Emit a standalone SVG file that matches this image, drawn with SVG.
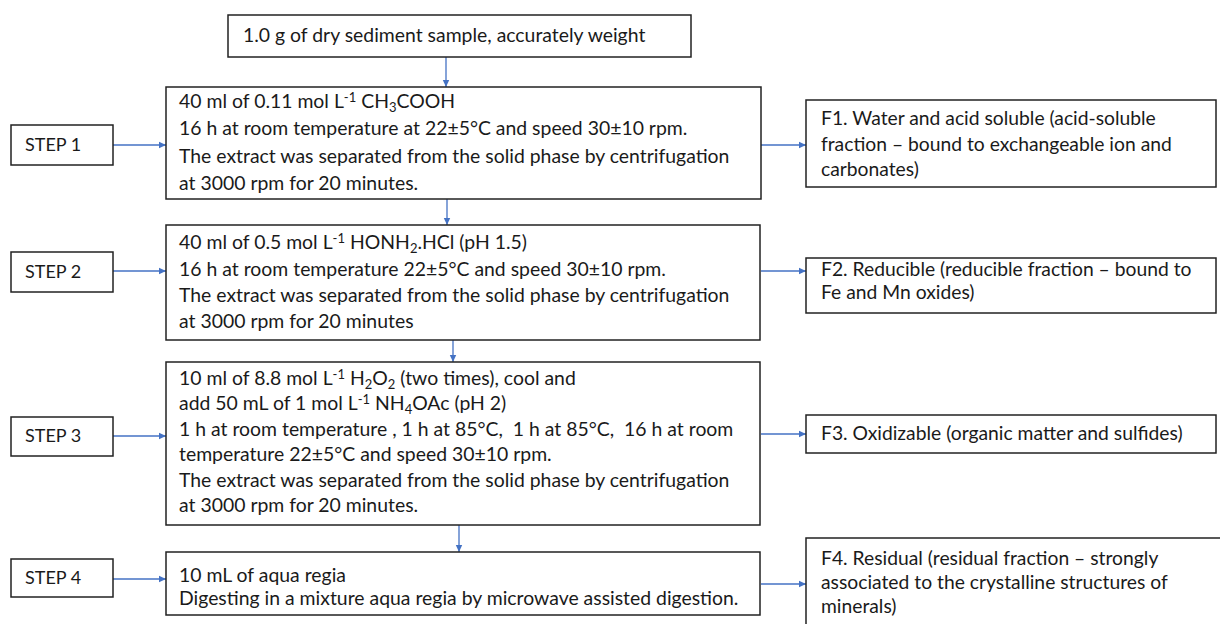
<svg xmlns="http://www.w3.org/2000/svg" width="1220" height="624" viewBox="0 0 1220 624">
<style>
  .box { fill: #ffffff; stroke: #222222; stroke-width: 1.5; }
  .t { font-family: Lato, "Open Sans", "Liberation Sans", sans-serif; font-size: 19.4px; fill: #1a1a1a; white-space: pre; }
  .f { font-size: 19.3px; }
  .s { font-size: 18px; }
  .c { stroke: #4472C4; stroke-width: 1.3; fill: none; marker-end: url(#ah); }
</style>
<defs>
  <marker id="ah" markerWidth="8" markerHeight="8" refX="7" refY="4" orient="auto" markerUnits="userSpaceOnUse">
    <path d="M0,0.8 L7,4 L0,7.2 Z" fill="#4472C4"/>
  </marker>
</defs>
<rect width="1220" height="624" fill="#ffffff"/>

<g id="connectors">
  <line class="c" x1="446" y1="57" x2="446" y2="87"/>
  <line class="c" x1="447" y1="199" x2="447" y2="225"/>
  <line class="c" x1="453" y1="340" x2="453" y2="362"/>
  <line class="c" x1="459" y1="525" x2="459" y2="552"/>
  <line class="c" x1="113" y1="145" x2="166" y2="145"/>
  <line class="c" x1="113" y1="271" x2="166" y2="271"/>
  <line class="c" x1="113" y1="436" x2="166" y2="436"/>
  <line class="c" x1="113" y1="579" x2="166" y2="579"/>
  <line class="c" x1="761" y1="145" x2="806" y2="145"/>
  <line class="c" x1="761" y1="271" x2="806" y2="271"/>
  <line class="c" x1="761" y1="434" x2="806" y2="434"/>
  <line class="c" x1="761" y1="584" x2="806" y2="584"/>
</g>

<g id="sample">
  <rect class="box" x="228" y="15" width="463" height="42"/>
  <text class="t" x="243" y="42">1.0 g of dry sediment sample, accurately weight</text>
</g>

<g id="step1-label">
  <rect class="box" x="11" y="125" width="102" height="40"/>
  <text class="t s" x="25" y="151">STEP 1</text>
</g>
<g id="step1">
  <rect class="box" x="166" y="87" width="595" height="112"/>
  <text class="t" x="179" y="108">40 ml of 0.11 mol L<tspan dy="-6" font-size="13">-1</tspan><tspan dy="6"> CH</tspan><tspan dy="4" font-size="13">3</tspan><tspan dy="-4">COOH</tspan></text>
  <text class="t" x="179" y="135">16 h at room temperature at 22±5°C and speed 30±10 rpm.</text>
  <text class="t" x="179" y="163">The extract was separated from the solid phase by centrifugation</text>
  <text class="t" x="179" y="190">at 3000 rpm for 20 minutes.</text>
</g>
<g id="f1">
  <rect class="box" x="806" y="100" width="410" height="87"/>
  <text class="t f" x="821" y="125">F1. Water and acid soluble (acid-soluble</text>
  <text class="t f" x="821" y="151">fraction – bound to exchangeable ion and</text>
  <text class="t f" x="821" y="176">carbonates)</text>
</g>

<g id="step2-label">
  <rect class="box" x="11" y="252" width="102" height="40"/>
  <text class="t s" x="25" y="278">STEP 2</text>
</g>
<g id="step2">
  <rect class="box" x="166" y="225" width="594" height="115"/>
  <text class="t" x="179" y="249">40 ml of 0.5 mol L<tspan dy="-6" font-size="13">-1</tspan><tspan dy="6"> HONH</tspan><tspan dy="4" font-size="13">2</tspan><tspan dy="-4">.HCl (pH 1.5)</tspan></text>
  <text class="t" x="179" y="276">16 h at room temperature 22±5°C and speed 30±10 rpm.</text>
  <text class="t" x="179" y="302">The extract was separated from the solid phase by centrifugation</text>
  <text class="t" x="179" y="328">at 3000 rpm for 20 minutes</text>
</g>
<g id="f2">
  <rect class="box" x="806" y="258" width="410" height="55"/>
  <text class="t f" x="821" y="276">F2. Reducible (reducible fraction – bound to</text>
  <text class="t f" x="821" y="299">Fe and Mn oxides)</text>
</g>

<g id="step3-label">
  <rect class="box" x="11" y="417" width="102" height="39"/>
  <text class="t s" x="25" y="442">STEP 3</text>
</g>
<g id="step3">
  <rect class="box" x="166" y="362" width="594" height="163"/>
  <text class="t" x="179" y="385">10 ml of 8.8 mol L<tspan dy="-6" font-size="13">-1</tspan><tspan dy="6"> H</tspan><tspan dy="4" font-size="13">2</tspan><tspan dy="-4">O</tspan><tspan dy="4" font-size="13">2</tspan><tspan dy="-4"> (two times), cool and</tspan></text>
  <text class="t" x="179" y="410">add 50 mL of 1 mol L<tspan dy="-6" font-size="13">-1</tspan><tspan dy="6"> NH</tspan><tspan dy="4" font-size="13">4</tspan><tspan dy="-4">OAc (pH 2)</tspan></text>
  <text class="t" x="179" y="436">1 h at room temperature , 1 h at 85°C,  1 h at 85°C,  16 h at room</text>
  <text class="t" x="179" y="461">temperature 22±5°C and speed 30±10 rpm.</text>
  <text class="t" x="179" y="487">The extract was separated from the solid phase by centrifugation</text>
  <text class="t" x="179" y="512">at 3000 rpm for 20 minutes.</text>
</g>
<g id="f3">
  <rect class="box" x="806" y="415" width="410" height="38"/>
  <text class="t f" x="821" y="440">F3. Oxidizable (organic matter and sulfides)</text>
</g>

<g id="step4-label">
  <rect class="box" x="11" y="559" width="102" height="38"/>
  <text class="t s" x="25" y="584">STEP 4</text>
</g>
<g id="step4">
  <rect class="box" x="166" y="552" width="594" height="63"/>
  <text class="t" x="179" y="582">10 mL of aqua regia</text>
  <text class="t" x="179" y="605">Digesting in a mixture aqua regia by microwave assisted digestion.</text>
</g>
<g id="f4">
  <rect class="box" x="806" y="538" width="420" height="100"/>
  <text class="t f" x="821" y="565">F4. Residual (residual fraction – strongly</text>
  <text class="t f" x="821" y="589">associated to the crystalline structures of</text>
  <text class="t f" x="821" y="613">minerals)</text>
</g>
</svg>
